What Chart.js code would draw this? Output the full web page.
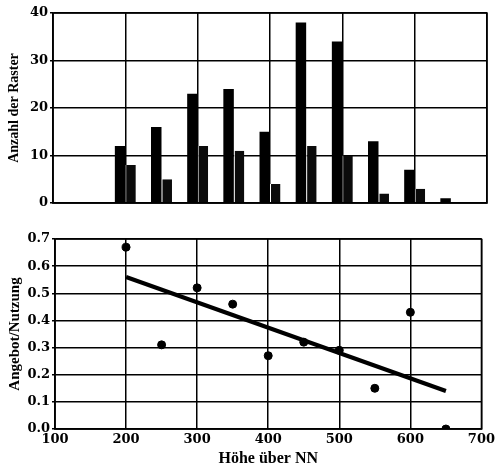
<!DOCTYPE html>
<html>
<head>
<meta charset="utf-8">
<script src="https://cdn.jsdelivr.net/npm/chart.js@4/dist/chart.umd.min.js"></script>
<style>
  html, body { margin: 0; padding: 0; background: #fff; }
  #wrap { position: relative; width: 498px; height: 470px; }
  #top { position: absolute; left: 0; top: 0; width: 498px; height: 215px; }
  #bottom { position: absolute; left: 0; top: 215px; width: 498px; height: 255px; }
</style>
</head>
<body>
<div id="wrap">
  <div id="top"><canvas id="barChart"></canvas></div>
  <div id="bottom"><canvas id="ratioChart"></canvas></div>
</div>
<script>
// Höhenstufen (m über NN)
const heights = [200, 250, 300, 350, 400, 450, 500, 550, 600, 650];
// Anzahl der Raster: Angebot und Nutzung
const rasterAngebot = [12, 16, 23, 24, 15, 38, 34, 13, 7, 1];
const rasterNutzung = [8, 5, 12, 11, 4, 12, 10, 2, 3, 0];
// Verhältnis Angebot/Nutzung
const ratio = [0.67, 0.31, 0.52, 0.46, 0.27, 0.32, 0.29, 0.15, 0.43, 0.0];
// Trendlinie (Endpunkte)
const trendX = [200, 650];
const trendY = [0.56, 0.14];

const xTicks = [100, 200, 300, 400, 500, 600, 700];

Chart.defaults.font.family = '"Liberation Serif", "DejaVu Serif", serif';
Chart.defaults.font.weight = 'bold';
Chart.defaults.color = '#000';
Chart.defaults.animation = false;

const tickFont = { family: '"DejaVu Serif", serif', size: 13, weight: 'bold' };

function pairs(xs, ys) {
    return xs.map((x, i) => ({ x: x, y: ys[i] }));
}

const framePlugin = {
    id: 'frame',
    afterDraw(chart) {
        const a = chart.chartArea, c = chart.ctx;
        c.save();
        c.strokeStyle = '#000';
        c.lineWidth = 1.5;
        c.strokeRect(a.left, a.top, a.right - a.left, a.bottom - a.top);
        c.restore();
    }
};

new Chart(document.getElementById('barChart'), {
    type: 'bar',
    data: {
        datasets: [{
            data: pairs(heights, rasterAngebot),
            backgroundColor: '#000',
            borderWidth: 0,
            categoryPercentage: 0.58,
            barPercentage: 1.0
        }, {
            data: pairs(heights, rasterNutzung),
            backgroundColor: '#0b0b0b',
            borderColor: '#fff',
            borderWidth: { left: 1, right: 0, top: 0, bottom: 0 },
            categoryPercentage: 0.58,
            barPercentage: 1.0
        }]
    },
    options: {
        responsive: true,
        maintainAspectRatio: false,
        layout: { padding: { left: 6, right: 11, top: 13, bottom: 12 } },
        plugins: { legend: { display: false }, tooltip: { enabled: false } },
        scales: {
            x: {
                type: 'linear',
                min: 100,
                max: 700,
                offset: false,
                afterBuildTicks: (axis) => { axis.ticks = xTicks.map(v => ({ value: v })); },
                ticks: { display: false },
                grid: { color: '#000', lineWidth: 1.5, drawTicks: false, offset: false },
                border: { color: '#000', width: 1.5 }
            },
            y: {
                min: 0,
                max: 40,
                ticks: { stepSize: 10, font: tickFont, padding: 2 },
                grid: { color: '#000', lineWidth: 1.5, tickLength: 3 },
                border: { color: '#000', width: 1.5 },
                title: { display: true, text: 'Anzahl der Raster', font: { size: 14, weight: 'bold' }, padding: 0 },
                afterFit: (axis) => { axis.width = 47; }
            }
        }
    },
    plugins: [framePlugin]
});

new Chart(document.getElementById('ratioChart'), {
    type: 'scatter',
    data: {
        datasets: [{
            data: pairs(heights, ratio),
            backgroundColor: '#000',
            borderColor: '#000',
            pointRadius: 4,
            showLine: false
        }, {
            data: pairs(trendX, trendY),
            borderColor: '#000',
            borderWidth: 4,
            pointRadius: 0,
            showLine: true
        }]
    },
    options: {
        responsive: true,
        maintainAspectRatio: false,
        layout: { padding: { left: 6, right: 11, top: 24, bottom: 0 } },
        plugins: { legend: { display: false }, tooltip: { enabled: false } },
        scales: {
            x: {
                type: 'linear',
                min: 100,
                max: 700,
                ticks: { stepSize: 100, font: tickFont, padding: 3 },
                grid: { color: '#000', lineWidth: 1.5, drawTicks: false },
                border: { color: '#000', width: 1.5 },
                title: { display: true, text: 'Höhe über NN', font: { size: 16, weight: 'bold' }, padding: { top: 0, bottom: 2 } },
                afterFit: (axis) => { axis.height = 41; }
            },
            y: {
                min: 0,
                max: 0.7,
                ticks: { stepSize: 0.1, font: tickFont, padding: 2, callback: (v) => v.toFixed(1) },
                grid: { color: '#000', lineWidth: 1.5, tickLength: 3 },
                border: { color: '#000', width: 1.5 },
                title: { display: true, text: 'Angebot/Nutzung', font: { size: 15, weight: 'bold' }, padding: 0 },
                afterFit: (axis) => { axis.width = 49; }
            }
        }
    },
    plugins: [framePlugin]
});
</script>
</body>
</html>
